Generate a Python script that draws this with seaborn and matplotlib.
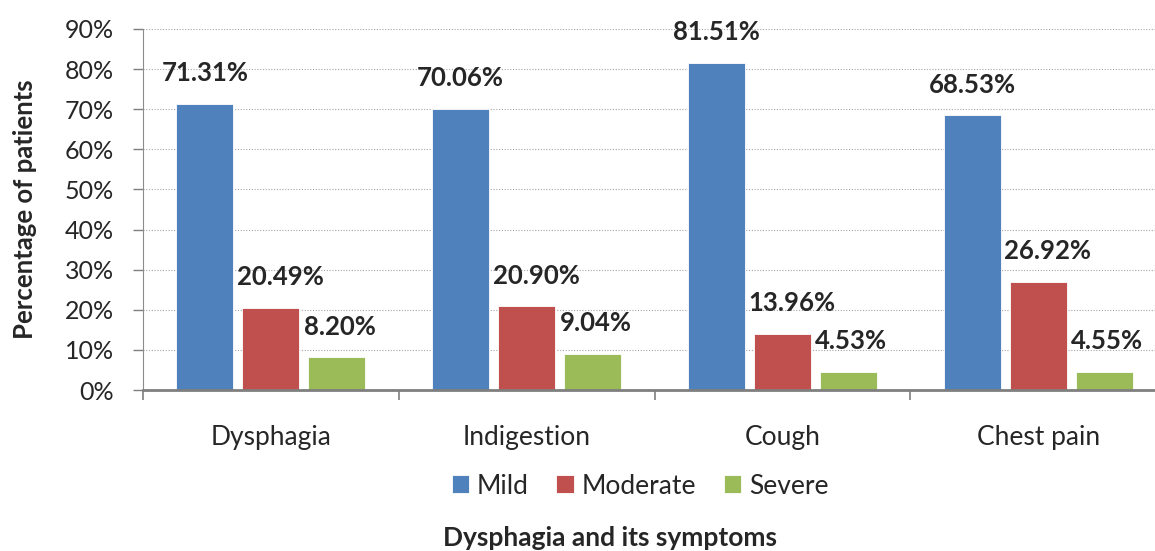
import matplotlib.pyplot as plt
import seaborn as sns
import pandas as pd
import numpy as np
from matplotlib.ticker import PercentFormatter, FixedLocator

symptoms = ['Dysphagia', 'Indigestion', 'Cough', 'Chest pain']
severities = ['Mild', 'Moderate', 'Severe']
mild = [71.31, 70.06, 81.51, 68.53]
moderate = [20.49, 20.90, 13.96, 26.92]
severe = [8.20, 9.04, 4.53, 4.55]
colors = ['#4F81BD', '#C0504D', '#9BBB59']

df = pd.DataFrame({
    'Symptom': symptoms * 3,
    'Severity': [s for s in severities for _ in symptoms],
    'Percent': mild + moderate + severe,
})

sns.set_style('white')
plt.rcParams['font.family'] = ['Lato', 'DejaVu Sans']

fig = plt.figure(figsize=(11.55, 5.51), dpi=100)
ax = fig.add_axes([143 / 1155, 161 / 551, 1023 / 1155, 361 / 551])

sns.barplot(data=df, x='Symptom', y='Percent', hue='Severity', order=symptoms,
            hue_order=severities, palette=colors, saturation=1, width=0.774, gap=0.136,
            edgecolor='white', linewidth=0.6, ax=ax, legend=True)

# value labels above bars (moderate labels sit a little to the right)
x_shift = [0, 7, 2]
for cont, dx in zip(ax.containers, x_shift):
    for bar in cont:
        h = bar.get_height()
        ax.annotate(f'{h:.2f}%', (bar.get_x() + bar.get_width() / 2, h),
                    xytext=(dx, 22), textcoords='offset points',
                    ha='center', va='center', fontsize=18.5, fontweight='bold')

ax.set_ylim(0, 90)
ax.set_xlim(-0.5, 3.5)
ax.yaxis.set_major_locator(FixedLocator(np.arange(0, 91, 10)))
ax.yaxis.set_major_formatter(PercentFormatter(decimals=0))
ax.grid(axis='y', color='#A6A6A6', linestyle=(0, (1, 1.5)), linewidth=0.8)
ax.set_axisbelow(True)

ax.xaxis.set_minor_locator(FixedLocator([-0.5, 0.5, 1.5, 2.5, 3.5]))
ax.tick_params(axis='x', which='major', length=0, pad=25, labelsize=19)
ax.tick_params(axis='x', which='minor', length=7, width=1.2, color='#7F7F7F', direction='out', bottom=True)
ax.tick_params(axis='y', length=7, width=1, color='#7F7F7F', direction='out', left=True, labelsize=18, pad=14)

for side in ['top', 'right']:
    ax.spines[side].set_visible(False)
ax.spines['left'].set_color('#8C8C8C')
ax.spines['bottom'].set_color('#7F7F7F')
ax.spines['bottom'].set_linewidth(2)

ax.set_ylabel('Percentage of patients', fontsize=18.5, fontweight='bold', labelpad=20)
ax.set_xlabel('')
fig.text(610 / 1155, 1 - 538 / 551, 'Dysphagia and its symptoms', ha='center', va='center',
         fontsize=19, fontweight='bold')

ax.legend(loc='center', bbox_to_anchor=(640 / 1155, 1 - 486 / 551), bbox_transform=fig.transFigure,
          ncol=3, frameon=False, fontsize=19, handlelength=0.65, handleheight=0.65,
          handletextpad=0.3, columnspacing=1.05)

fig.savefig('out.png', dpi=100)
